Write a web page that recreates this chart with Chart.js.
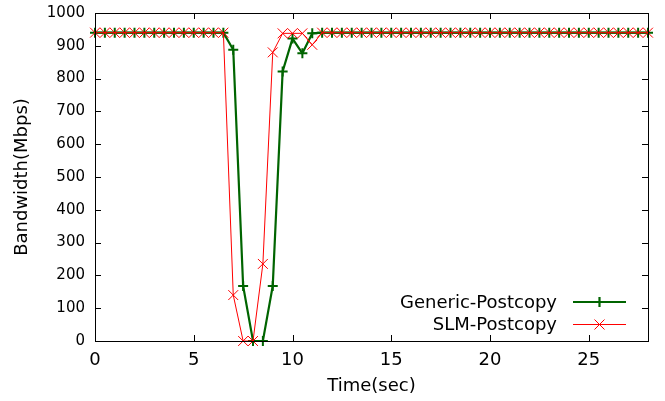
<!DOCTYPE html>
<html>
<head>
<meta charset="utf-8">
<script src="https://cdn.jsdelivr.net/npm/chart.js@4"></script>
<style>
  html, body { margin: 0; padding: 0; background: #ffffff; }
  #wrap { width: 665px; height: 401px; }
</style>
</head>
<body>
<div id="wrap"><canvas id="c" width="665" height="401"></canvas></div>
<script>
// ---- data ----
const times = [0, 0.5, 1, 1.5, 2, 2.5, 3, 3.5, 4, 4.5, 5, 5.5, 6, 6.5, 7, 7.5, 8, 8.5, 9, 9.5,
  10, 10.5, 11, 11.5, 12, 12.5, 13, 13.5, 14, 14.5, 15, 15.5, 16, 16.5, 17, 17.5, 18, 18.5, 19, 19.5,
  20, 20.5, 21, 21.5, 22, 22.5, 23, 23.5, 24, 24.5, 25, 25.5, 26, 26.5, 27, 27.5, 28];
const genericPostcopy = [940, 940, 940, 940, 940, 940, 940, 940, 940, 940, 940, 940, 940, 940,
  888, 168, 0, 0, 168, 822, 922, 877, 938,
  940, 940, 940, 940, 940, 940, 940, 940, 940, 940, 940, 940, 940, 940, 940, 940, 940, 940,
  940, 940, 940, 940, 940, 940, 940, 940, 940, 940, 940, 940, 940, 940, 940, 940];
const slmPostcopy = [940, 940, 940, 940, 940, 940, 940, 940, 940, 940, 940, 940, 940, 940,
  140, 0, 0, 235, 880, 938, 938, 938, 903,
  940, 940, 940, 940, 940, 940, 940, 940, 940, 940, 940, 940, 940, 940, 940, 940, 940, 940,
  940, 940, 940, 940, 940, 940, 940, 940, 940, 940, 940, 940, 940, 940, 940, 940];
const seriesNames = ['Generic-Postcopy', 'SLM-Postcopy'];
const xTickValues = [0, 5, 10, 15, 20, 25];
const yTickValues = [0, 100, 200, 300, 400, 500, 600, 700, 800, 900, 1000];
const xTitle = 'Time(sec)';
const yTitle = 'Bandwidth(Mbps)';

const GREEN = '#006400';
const RED = '#ff0000';
const FONT = "'DejaVu Sans', sans-serif";

function toPoints(xs, ys) { return xs.map((x, i) => ({ x: x, y: ys[i] })); }

// Box border, inward mirrored ticks and the key
const framePlugin = {
  id: 'frame',
  afterDatasetsDraw(chart) {
    const ctx = chart.ctx;
    const a = chart.chartArea;
    const xs = chart.scales.x, ys = chart.scales.y;
    const L = 6;
    ctx.save();
    ctx.strokeStyle = '#000';
    ctx.lineWidth = 1;
    ctx.beginPath();
    xs.ticks.forEach(t => {
      const px = Math.round(xs.getPixelForValue(t.value)) + 0.5;
      ctx.moveTo(px, a.bottom); ctx.lineTo(px, a.bottom - L);
      ctx.moveTo(px, a.top); ctx.lineTo(px, a.top + L);
    });
    ys.ticks.forEach(t => {
      const py = Math.round(ys.getPixelForValue(t.value)) + 0.5;
      ctx.moveTo(a.left, py); ctx.lineTo(a.left + L, py);
      ctx.moveTo(a.right, py); ctx.lineTo(a.right - L, py);
    });
    ctx.stroke();
    ctx.strokeRect(Math.round(a.left) + 0.5, Math.round(a.top) + 0.5,
                   Math.round(a.right - a.left), Math.round(a.bottom - a.top));

    // key
    const rows = [
      { name: seriesNames[0], color: GREEN, width: 2.2, style: 'plus' },
      { name: seriesNames[1], color: RED, width: 1, style: 'x' }
    ];
    const textRight = a.right - 91, lineL = a.right - 75, lineR = a.right - 22;
    const mid = (lineL + lineR) / 2;
    ctx.font = '18px ' + FONT;
    ctx.textAlign = 'right';
    ctx.textBaseline = 'middle';
    rows.forEach((r, i) => {
      const y = a.bottom - 39 + i * 22.5;
      ctx.fillStyle = '#000';
      ctx.fillText(r.name, textRight, y + 1);
      ctx.strokeStyle = r.color;
      ctx.lineWidth = r.width;
      ctx.beginPath();
      ctx.moveTo(lineL, y); ctx.lineTo(lineR, y);
      if (r.style === 'plus') {
        ctx.moveTo(mid, y - 5); ctx.lineTo(mid, y + 5);
      } else {
        ctx.moveTo(mid - 5, y - 5); ctx.lineTo(mid + 5, y + 5);
        ctx.moveTo(mid - 5, y + 5); ctx.lineTo(mid + 5, y - 5);
      }
      ctx.stroke();
    });
    ctx.restore();
  }
};

const bgPlugin = {
  id: 'bg',
  beforeDraw(chart) {
    const ctx = chart.ctx;
    ctx.save();
    ctx.fillStyle = '#fff';
    ctx.fillRect(0, 0, chart.width, chart.height);
    ctx.restore();
  }
};

new Chart(document.getElementById('c'), {
  type: 'line',
  data: {
    datasets: [
      {
        label: seriesNames[0],
        data: toPoints(times, genericPostcopy),
        borderColor: GREEN,
        backgroundColor: GREEN,
        borderWidth: 2.2,
        pointStyle: 'cross',
        pointRadius: 5,
        pointBorderWidth: 2,
        pointBorderColor: GREEN,
        tension: 0,
        fill: false,
        order: 1
      },
      {
        label: seriesNames[1],
        data: toPoints(times, slmPostcopy),
        borderColor: RED,
        backgroundColor: RED,
        borderWidth: 1,
        pointStyle: 'crossRot',
        pointRadius: 7,
        pointBorderWidth: 1,
        pointBorderColor: RED,
        tension: 0,
        fill: false,
        order: 0
      }
    ]
  },
  options: {
    responsive: false,
    animation: false,
    events: [],
    clip: false,
    layout: { padding: { left: 0, right: 17, top: 13, bottom: 0 } },
    plugins: { legend: { display: false }, tooltip: { enabled: false } },
    scales: {
      x: {
        type: 'linear',
        min: 0, max: 28,
        afterBuildTicks(scale) { scale.ticks = xTickValues.map(v => ({ value: v })); },
        afterFit(scale) { scale.height = 60; scale.paddingLeft = 0; scale.paddingRight = 0; },
        grid: { display: false, drawTicks: false },
        border: { display: false },
        ticks: { font: { family: FONT, size: 18 }, color: '#000', padding: 9, maxRotation: 0,
                 callback: v => String(v) },
        title: { display: true, text: xTitle, font: { family: FONT, size: 18 }, color: '#000', padding: { top: 0, bottom: 4 } }
      },
      y: {
        type: 'linear',
        min: 0, max: 1000,
        afterBuildTicks(scale) { scale.ticks = yTickValues.map(v => ({ value: v })); },
        afterFit(scale) { scale.width = 95; scale.paddingTop = 0; scale.paddingBottom = 0; },
        grid: { display: false, drawTicks: false },
        border: { display: false },
        ticks: { font: { family: FONT, size: 15 }, color: '#000', padding: 10,
                 callback: v => String(v) },
        title: { display: true, text: yTitle, font: { family: FONT, size: 18 }, color: '#000', padding: { top: 12, bottom: 4 } }
      }
    }
  },
  plugins: [bgPlugin, framePlugin]
});
</script>
</body>
</html>
